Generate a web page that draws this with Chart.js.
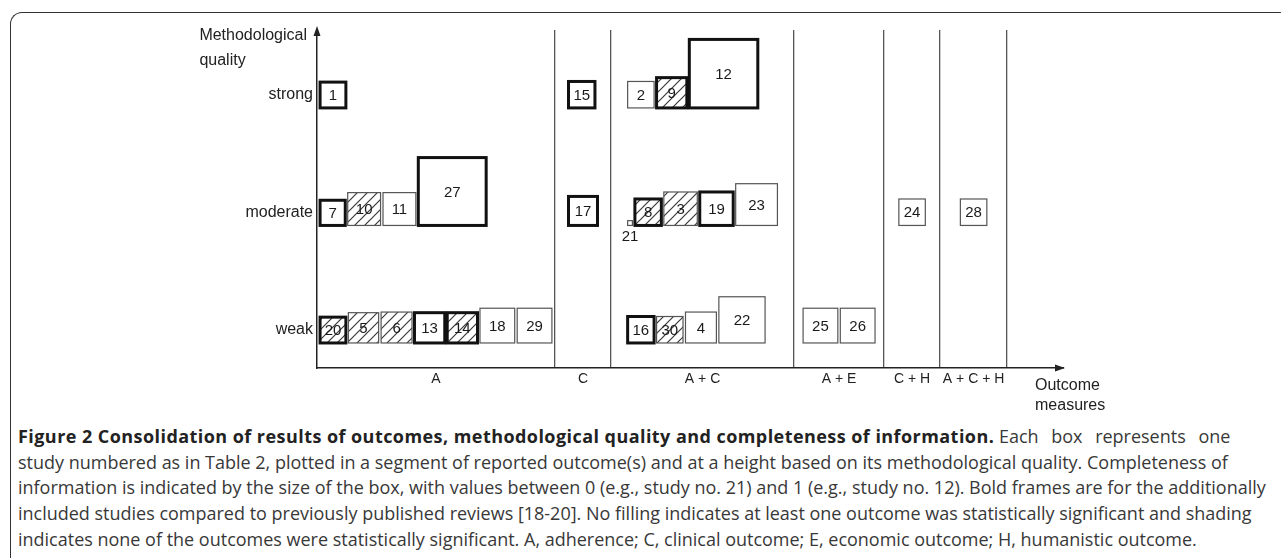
<!DOCTYPE html>
<html>
<head>
<meta charset="utf-8">
<script src="https://cdn.jsdelivr.net/npm/chart.js@4.4.0/dist/chart.umd.min.js"></script>
<style>
  html, body { margin: 0; padding: 0; background: #fff; width: 1281px; height: 558px; overflow: hidden; }
  #frame { position: absolute; left: 10px; top: 12px; width: 1300px; height: 600px;
           border-top: 1.5px solid #333; border-left: 1.5px solid #333; border-top-left-radius: 12px; }
  #fig { position: absolute; left: 0; top: 0; }
  #caption { position: absolute; left: 18px; top: 424px; font-family: "Open Sans", sans-serif;
             color: #383838; line-height: 25.7px; white-space: nowrap; }
  #caption b { color: #222; letter-spacing: 0.45px; }
  #caption .tail { word-spacing: 8px; }
</style>
</head>
<body>
<div id="frame"></div>
<canvas id="fig" width="1281" height="420"></canvas>
<div id="caption">
  <div><b>Figure 2 Consolidation of results of outcomes, methodological quality and completeness of information.</b> <span class="tail">Each box represents one</span></div>
  <div>study numbered as in Table 2, plotted in a segment of reported outcome(s) and at a height based on its methodological quality. Completeness of</div>
  <div id="widest">information is indicated by the size of the box, with values between 0 (e.g., study no. 21) and 1 (e.g., study no. 12). Bold frames are for the additionally</div>
  <div>included studies compared to previously published reviews [18-20]. No filling indicates at least one outcome was statistically significant and shading</div>
  <div>indicates none of the outcomes were statistically significant. A, adherence; C, clinical outcome; E, economic outcome; H, humanistic outcome.</div>
</div>
<script>
// outcome segments and quality levels
const segments = ["A", "C", "A + C", "A + E", "C + H", "A + C + H"];
const qualityLabels = ["weak", "moderate", "strong"];

// one entry per study, in left-to-right order inside each row
const studies      = [1, 7, 10, 11, 27, 20, 5, 6, 13, 14, 18, 29, 15, 17, 2, 9, 12, 21, 8, 3, 19, 23, 16, 30, 4, 22, 25, 26, 24, 28];
const segment      = ["A", "A", "A", "A", "A", "A", "A", "A", "A", "A", "A", "A", "C", "C",
                      "A + C", "A + C", "A + C", "A + C", "A + C", "A + C", "A + C", "A + C", "A + C", "A + C", "A + C", "A + C",
                      "A + E", "A + E", "C + H", "A + C + H"];
const quality      = [3, 2, 2, 2, 2, 1, 1, 1, 1, 1, 1, 1, 3, 2, 3, 3, 3, 2, 2, 2, 2, 2, 1, 1, 1, 1, 1, 1, 2, 2];
const completeness = [0.33, 0.32, 0.44, 0.44, 0.99, 0.33, 0.40, 0.41, 0.40, 0.40, 0.47, 0.47, 0.34, 0.38,
                      0.34, 0.40, 1.00, 0.00, 0.34, 0.45, 0.45, 0.58, 0.34, 0.34, 0.41, 0.65, 0.47, 0.47, 0.34, 0.34];
const boldFrame    = [1, 1, 0, 0, 1, 1, 0, 0, 1, 1, 0, 0, 1, 1, 0, 1, 1, 0, 1, 0, 1, 0, 1, 0, 0, 0, 0, 0, 0, 0];
const shaded       = [0, 0, 1, 0, 0, 1, 1, 1, 0, 1, 0, 0, 0, 0, 0, 1, 0, 0, 1, 1, 0, 0, 0, 1, 0, 0, 0, 0, 0, 0];

// layout, in x units (1 unit = a box of completeness 1)
const segmentSpan = [3.474, 0.818, 2.672, 1.314, 0.818, 0.978];
const X_MAX = 10.89;
const BOX_GAP = 0.036;
const MIN_BOX = 0.07;
const BASE_DROP = 0.11;

const boxSize = completeness.map(c => MIN_BOX + (1 - MIN_BOX) * c);
const segStart = [];
let acc = 0;
segmentSpan.forEach(w => { segStart.push(acc); acc += w; });
const segBounds = segmentSpan.map((w, i) => segStart[i] + w);
const segCenters = segmentSpan.map((w, i) => segStart[i] + w / 2);

const boxes = [];
segments.forEach((seg, si) => {
  const rows = [3, 2, 1].map(q => studies.map((s, i) => i).filter(i => segment[i] === seg && quality[i] === q));
  const rowW = rows.map(r => r.reduce((a, i) => a + boxSize[i], 0) + Math.max(r.length - 1, 0) * BOX_GAP);
  const start = segStart[si] + (segmentSpan[si] - Math.max(...rowW)) / 2;
  rows.forEach(r => {
    let cx = start;
    r.forEach(i => {
      boxes.push({ x: cx, y: quality[i] - BASE_DROP, s: boxSize[i], id: studies[i], bold: boldFrame[i], hatch: shaded[i] });
      cx += boxSize[i] + BOX_GAP;
    });
  });
});

// diagonal hatching
const T = 10;
const pc = document.createElement("canvas");
pc.width = T; pc.height = T;
const pctx = pc.getContext("2d");
pctx.strokeStyle = "#3a3a3a"; pctx.lineWidth = 1.2;
pctx.beginPath();
pctx.moveTo(0, T); pctx.lineTo(T, 0);
pctx.moveTo(-2, 2); pctx.lineTo(2, -2);
pctx.moveTo(T - 2, T + 2); pctx.lineTo(T + 2, T - 2);
pctx.stroke();

const figurePlugin = {
  id: "figure",
  afterDatasetsDraw(chart) {
    const { ctx, scales: { x, y } } = chart;
    const unit = x.getPixelForValue(1) - x.getPixelForValue(0);
    const hatch = ctx.createPattern(pc, "repeat");
    ctx.save();
    chart.data.datasets[0].data.forEach(b => {
      const left = x.getPixelForValue(b.x);
      const bottom = y.getPixelForValue(b.y);
      const size = b.s * unit;
      ctx.fillStyle = "#fff";
      ctx.fillRect(left, bottom - size, size, size);
      if (b.hatch) {
        ctx.fillStyle = hatch;
        ctx.fillRect(left, bottom - size, size, size);
      }
      ctx.lineWidth = b.bold ? 3 : 1.2;
      ctx.strokeStyle = b.bold ? "#111" : "#555";
      ctx.strokeRect(left, bottom - size, size, size);
      ctx.fillStyle = "#1a1a1a";
      ctx.font = "15px 'Liberation Sans', Arial";
      ctx.textAlign = "center";
      ctx.textBaseline = "middle";
      if (size < 14) {
        ctx.fillText(String(b.id), left + size / 2, bottom + 11);
      } else {
        ctx.fillText(String(b.id), left + size / 2, bottom - size / 2 + 1);
      }
    });
    ctx.restore();
  },
  afterDraw(chart) {
    const { ctx, chartArea: a } = chart;
    ctx.save();
    ctx.fillStyle = "#222";
    // arrow heads
    ctx.beginPath();
    ctx.moveTo(a.left, a.top - 4); ctx.lineTo(a.left - 3.5, a.top + 6); ctx.lineTo(a.left + 3.5, a.top + 6);
    ctx.closePath(); ctx.fill();
    ctx.beginPath();
    ctx.moveTo(a.right + 2, a.bottom); ctx.lineTo(a.right - 8, a.bottom - 3.5); ctx.lineTo(a.right - 8, a.bottom + 3.5);
    ctx.closePath(); ctx.fill();
    // axis titles
    ctx.font = "16px 'Liberation Sans', Arial";
    ctx.textBaseline = "alphabetic";
    ctx.textAlign = "left";
    const w = ctx.measureText("Methodological").width;
    ctx.fillText("Methodological", a.left - 10 - w, a.top + 10);
    ctx.fillText("quality", a.left - 10 - w, a.top + 35);
    ctx.fillText("Outcome", a.right - 28, a.bottom + 22);
    ctx.fillText("measures", a.right - 28, a.bottom + 42);
    ctx.restore();
  }
};

new Chart("fig", {
  type: "scatter",
  data: { datasets: [{ data: boxes, pointRadius: 0, pointHoverRadius: 0 }] },
  options: {
    responsive: false,
    animation: false,
    devicePixelRatio: 1,
    events: [],
    layout: { padding: { left: 0, top: 30, right: 218, bottom: 22 } },
    plugins: { legend: { display: false }, tooltip: { enabled: false } },
    scales: {
      x: {
        type: "linear", min: 0, max: X_MAX,
        afterBuildTicks: axis => { axis.ticks = segCenters.map(v => ({ value: v })); },
        afterFit: axis => { axis.height = 30; },
        ticks: { callback: (v, i) => segments[i], font: { family: "'Liberation Sans', Arial", size: 14 },
                 color: "#222", padding: 3, maxRotation: 0, autoSkip: false },
        grid: { display: false, drawTicks: false },
        border: { display: true, color: "#222", width: 1.5 }
      },
      sep: {
        type: "linear", position: "bottom", min: 0, max: X_MAX,
        afterBuildTicks: axis => { axis.ticks = segBounds.map(v => ({ value: v })); },
        afterFit: axis => { axis.height = 0; },
        ticks: { display: false },
        grid: { display: true, drawTicks: false, color: "#555", lineWidth: 1.3 },
        border: { display: false }
      },
      y: {
        type: "linear", min: 0.677, max: 3.553,
        afterBuildTicks: axis => { axis.ticks = [1, 2, 3].map(v => ({ value: v })); },
        afterFit: axis => { axis.width = 317; },
        ticks: { callback: v => qualityLabels[v - 1], font: { family: "'Liberation Sans', Arial", size: 16 }, color: "#222", padding: 4 },
        grid: { display: false, drawTicks: false },
        border: { display: true, color: "#222", width: 1.5 }
      }
    }
  },
  plugins: [figurePlugin]
});

// fit caption size to the reference line width
const cap = document.getElementById("caption");
const mctx = document.createElement("canvas").getContext("2d");
mctx.font = "100px 'Open Sans'";
const wide = mctx.measureText(document.getElementById("widest").textContent).width;
cap.style.fontSize = (100 * 1248 / wide).toFixed(2) + "px";
</script>
</body>
</html>
